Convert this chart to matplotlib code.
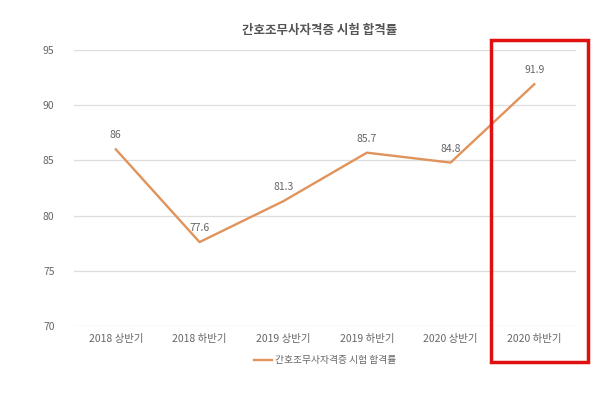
import matplotlib.pyplot as plt
from matplotlib.patches import Rectangle

plt.rcParams['font.family'] = ['Noto Sans CJK KR', 'DejaVu Sans']

categories = ["2018 상반기", "2018 하반기", "2019 상반기", "2019 하반기", "2020 상반기", "2020 하반기"]
pass_rate = [86, 77.6, 81.3, 85.7, 84.8, 91.9]
value_labels = ["86", "77.6", "81.3", "85.7", "84.8", "91.9"]
yticks = [70, 75, 80, 85, 90, 95]
title = "간호조무사자격증 시험 합격률"

line_color = "#e0935a"
text_color = "#666666"

fig = plt.figure(figsize=(6.09, 3.95), dpi=100)
ax = fig.add_axes([0.1215, 0.1747, 0.8245, 0.6987])

x = range(len(categories))
ax.plot(x, pass_rate, color=line_color, linewidth=1.7, label=title)
for xi, v, lab in zip(x, pass_rate, value_labels):
    ax.annotate(lab, (xi, v), xytext=(0, 6.5), textcoords="offset points",
                ha="center", va="bottom", fontsize=7.5, color=text_color)

ax.set_xlim(-0.5, len(categories) - 0.5)
ax.set_ylim(70, 95)
ax.set_yticks(yticks)
ax.set_xticks(list(x))
ax.set_xticklabels(categories)
ax.tick_params(axis="both", length=0, labelsize=7.5, colors=text_color)
ax.tick_params(axis="x", pad=6)
ax.tick_params(axis="y", pad=14)
ax.yaxis.grid(True, color="#dddddd", linewidth=0.9)
ax.set_axisbelow(True)
for s in ax.spines.values():
    s.set_visible(False)

fig.text(0.525, 0.922, title, ha="center", va="center", fontsize=9,
         fontweight="semibold", color="#555555")

ax.legend(loc="upper center", bbox_to_anchor=(0.5, -0.075), frameon=False,
          fontsize=7, labelcolor=text_color, handlelength=1.8, handletextpad=0.3)

fig.patches.append(Rectangle((0.806, 0.0835), 0.159, 0.815, transform=fig.transFigure,
                             fill=False, edgecolor="#e01010", linewidth=2.5))

fig.savefig("out.png", dpi=100)
